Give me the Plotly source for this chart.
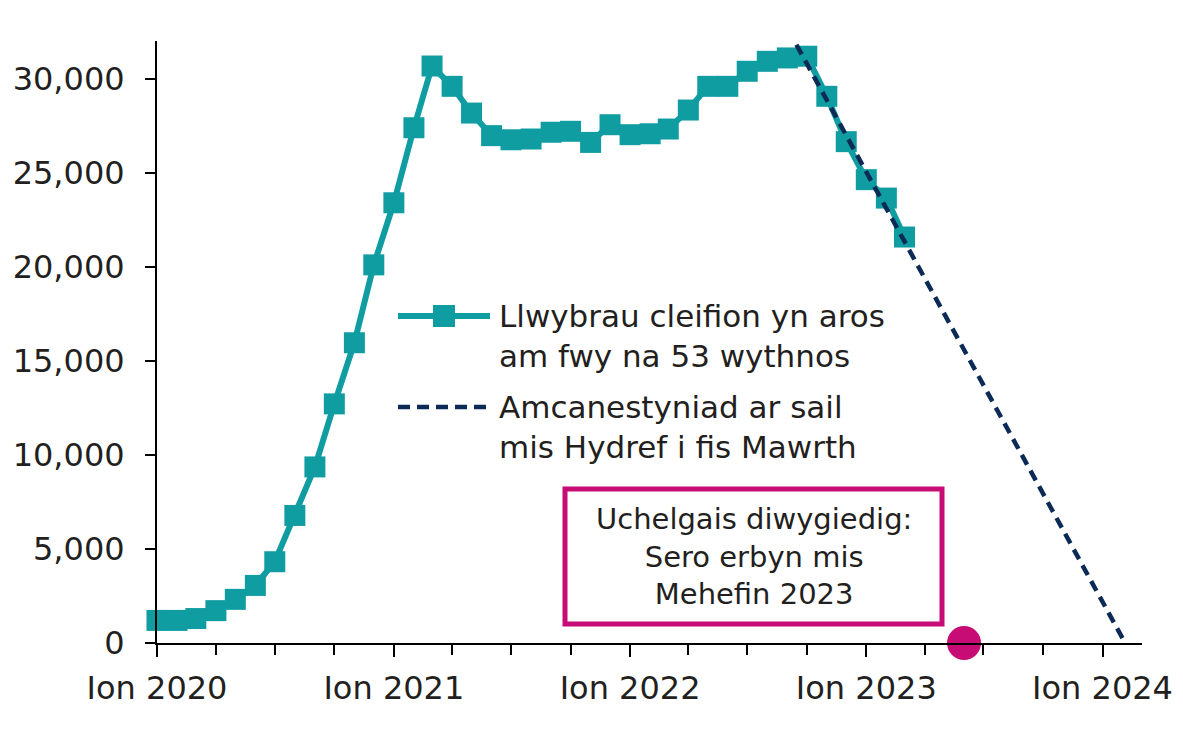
import plotly.graph_objects as go

# ---- data ----
months = [f"{y}-{m:02d}-01" for y in (2020, 2021, 2022, 2023) for m in range(1, 13)][:39]
waiting = [1200, 1200, 1300, 1720, 2320, 3060, 4320, 6780, 9360, 12710, 15960, 20100,
           23400, 27390, 30670, 29590, 28170, 26970, 26750, 26790, 27150, 27200, 26610, 27550,
           27020, 27070, 27320, 28330, 29590, 29590, 30390, 30920, 31100, 31190, 29060, 26650,
           24630, 23650, 21580]
proj_dates = ["2022-09-15", "2024-02-05"]
proj_values = [31800, 0]
target_date = ["2023-06-01"]
target_value = [0]
tick_dates = ["2020-01-01", "2021-01-01", "2022-01-01", "2023-01-01", "2024-01-01"]
tick_text = ["Ion 2020", "Ion 2021", "Ion 2022", "Ion 2023", "Ion 2024"]
y_ticks = [0, 5000, 10000, 15000, 20000, 25000, 30000]
legend_labels = ["Llwybrau cleifion yn aros<br>am fwy na 53 wythnos",
                 "Amcanestyniad ar sail<br>mis Hydref i fis Mawrth"]
target_text = "Uchelgais diwygiedig:<br>Sero erbyn mis<br>Mehefin 2023"

TEAL = "#0F9DA2"
NAVY = "#0B2A55"
PINK = "#C80C76"
TXT = "#231F20"
FONT = "DejaVu Sans"

OFF = 8  # page body margin
W, H = 1183 - OFF, 735 - OFF
L, R, T, B = 157 - OFF, 41, 41 - OFF, 92
PW, PH = W - L - R, H - T - B
def px(p): return (p - OFF - L) / PW
def py(p): return (H - B - (p - OFF)) / PH

fig = go.Figure()
fig.add_trace(go.Scatter(x=months, y=waiting, mode="lines+markers",
                         line=dict(color=TEAL, width=6),
                         marker=dict(symbol="square", size=21, color=TEAL),
                         cliponaxis=False, showlegend=False))
fig.add_trace(go.Scatter(x=proj_dates, y=proj_values, mode="lines",
                         line=dict(color=NAVY, width=4.5, dash="11px,7px"),
                         cliponaxis=False, showlegend=False))
fig.add_trace(go.Scatter(x=target_date, y=target_value, mode="markers",
                         marker=dict(size=34, color=PINK),
                         cliponaxis=False, showlegend=False))

xr = ["2020-01-01", "2024-03-02"]
fig.update_layout(
    width=W, height=H, margin=dict(l=L, r=R, t=T, b=B, autoexpand=False),
    paper_bgcolor="white", plot_bgcolor="white",
    font=dict(family=FONT, size=31, color=TXT),
    xaxis=dict(range=xr, tickvals=tick_dates, ticktext=tick_text, automargin=False,
               ticks="outside", ticklen=12, tickwidth=2, tickcolor="black",
               showline=True, linecolor="black", linewidth=2, showgrid=False,
               zeroline=False, tickfont=dict(size=32), ticklabelstandoff=4,
               minor=dict(ticks="outside", ticklen=10, tickwidth=2, tickcolor="black",
                          dtick="M3", tick0="2020-01-01", showgrid=False)),
    xaxis2=dict(range=xr, overlaying="x", anchor="y", side="bottom", automargin=False,
                tickvals=tick_dates, ticks="inside", ticklen=9, tickwidth=2,
                tickcolor="black", showticklabels=False, showline=False,
                showgrid=False, zeroline=False),
    yaxis=dict(range=[0, 32000], tickvals=y_ticks, tickformat=",", automargin=False,
               ticks="outside", ticklen=10, tickwidth=2, tickcolor="black",
               showline=True, linecolor="black", linewidth=2, showgrid=False,
               zeroline=False, tickfont=dict(size=32), ticklabelstandoff=14),
)

# custom legend
fig.add_shape(type="line", xref="paper", yref="paper", x0=px(398), x1=px(490),
              y0=py(316), y1=py(316), line=dict(color=TEAL, width=6))
fig.add_shape(type="rect", xref="paper", yref="paper", x0=px(433), x1=px(455),
              y0=py(327), y1=py(305), fillcolor=TEAL, line=dict(width=0))
fig.add_shape(type="line", xref="paper", yref="paper", x0=px(398), x1=px(490),
              y0=py(407), y1=py(407), line=dict(color=NAVY, width=4.5, dash="12px,7px"))
fig.add_annotation(xref="paper", yref="paper", x=px(497), y=py(336), text=legend_labels[0],
                   showarrow=False, xanchor="left", yanchor="middle", align="left",
                   font=dict(size=31, color=TXT))
fig.add_annotation(xref="paper", yref="paper", x=px(497), y=py(427), text=legend_labels[1],
                   showarrow=False, xanchor="left", yanchor="middle", align="left",
                   font=dict(size=31, color=TXT))

# target box
fig.add_shape(type="rect", xref="paper", yref="paper", x0=px(565), x1=px(942),
              y0=py(624), y1=py(489), line=dict(color=PINK, width=5), fillcolor="white")
fig.add_annotation(xref="paper", yref="paper", x=px(753.5), y=py(556), text=target_text,
                   showarrow=False, xanchor="center", yanchor="middle", align="center",
                   font=dict(size=29, color=TXT))

fig.write_html("out.html")
